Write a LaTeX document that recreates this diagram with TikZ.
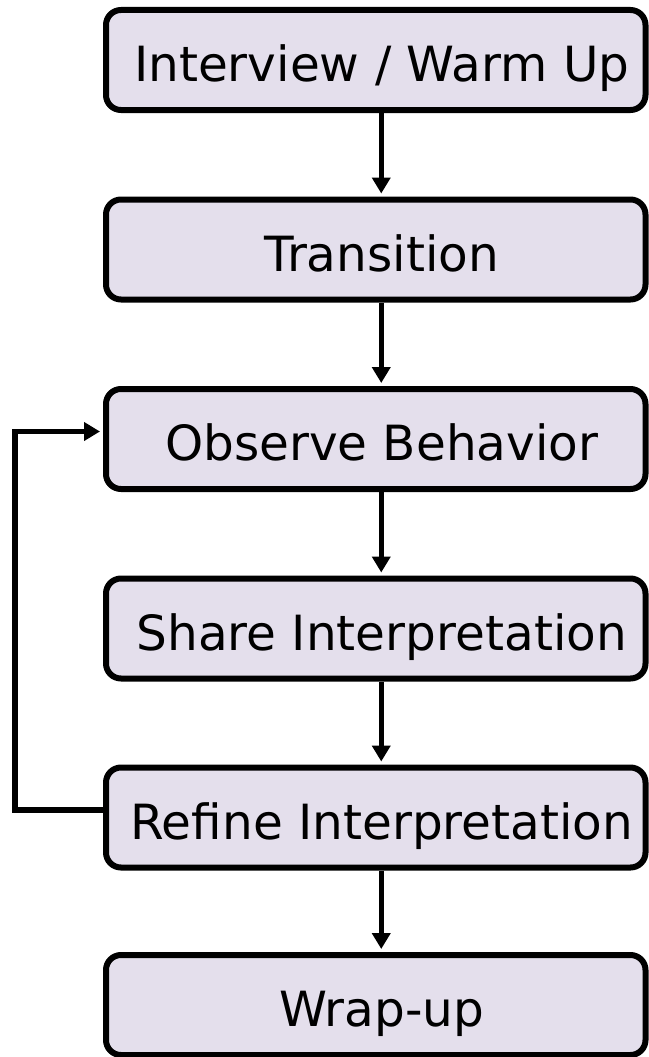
\documentclass[tikz,border=0pt]{standalone}
\usepackage{fontspec}
\setmainfont{DejaVu Sans}
\usetikzlibrary{arrows.meta}
\definecolor{boxfill}{HTML}{E4DFEC}
\tikzset{
  stagebox/.style={draw=black, fill=boxfill, line width=6pt, rounded corners=15pt,
    minimum width=539.5pt, minimum height=100pt, inner sep=0pt},
  stagetext/.style={anchor=base, inner sep=0pt, font=\fontsize{48.5}{58}\selectfont},
  flow/.style={line width=5.5pt, -{Triangle[length=16pt,width=18pt]}, shorten >=3pt},
}
\begin{document}
\begin{tikzpicture}[x=1pt, y=-1pt]
  \useasboundingbox (0,0) rectangle (648,1057);

  % stage boxes
  \node[stagebox] (b1) at (375.75,60)    {};
  \node[stagebox] (b2) at (375.75,249.5) {};
  \node[stagebox] (b3) at (375.75,439)   {};
  \node[stagebox] (b4) at (375.75,628.5) {};
  \node[stagebox] (b5) at (375.75,817.5) {};
  \node[stagebox] (b6) at (375.75,1005)  {};

  % stage labels
  \node[stagetext] (t1) at ([xshift=6pt,yshift=-21.7pt]b1.center) {Interview / Warm Up};
  \node[stagetext] (t2) at ([xshift=6pt,yshift=-21.7pt]b2.center) {Transition};
  \node[stagetext] (t3) at ([xshift=6pt,yshift=-21.7pt]b3.center) {Observe Behavior};
  \node[stagetext] (t4) at ([xshift=6pt,yshift=-21.7pt]b4.center) {Share Interpretation};
  \node[stagetext] (t5) at ([xshift=6pt,yshift=-21.7pt]b5.center) {Refine Interpretation};
  \node[stagetext] (t6) at ([xshift=6pt,yshift=-21.7pt]b6.center) {Wrap-up};

  % main flow
  \draw[flow] ([xshift=5.5pt]b1.south) -- ([xshift=5.5pt]b2.north);
  \draw[flow] ([xshift=5.5pt]b2.south) -- ([xshift=5.5pt]b3.north);
  \draw[flow] ([xshift=5.5pt]b3.south) -- ([xshift=5.5pt]b4.north);
  \draw[flow] ([xshift=5.5pt]b4.south) -- ([xshift=5.5pt]b5.north);
  \draw[flow] ([xshift=5.5pt]b5.south) -- ([xshift=5.5pt]b6.north);

  % refinement loop back to observation
  \draw[flow] ([yshift=7.5pt]b5.west) -- ++(-88,0) |- ([yshift=7.5pt]b3.west);
\end{tikzpicture}
\end{document}
